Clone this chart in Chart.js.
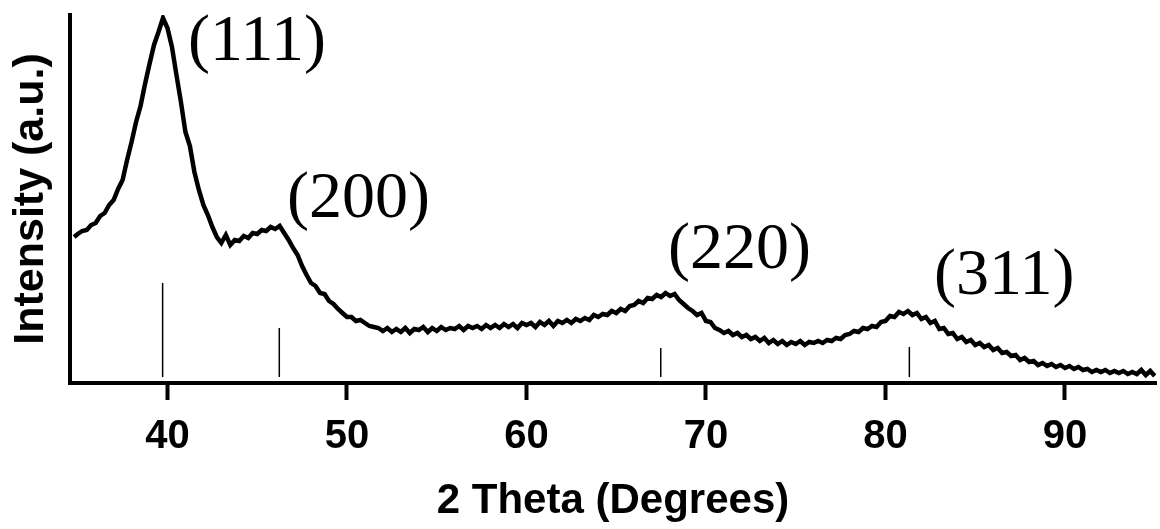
<!DOCTYPE html>
<html>
<head>
<meta charset="utf-8">
<script src="https://cdn.jsdelivr.net/npm/chart.js@4/dist/chart.umd.min.js"></script>
<style>
  body { margin: 0; background: #fff; }
  canvas { display: block; }
</style>
</head>
<body>
<canvas id="xrd" width="1160" height="529"></canvas>
<script>
// 2 theta (degrees) for the measured pattern
const twoTheta = [
  34.8,
  35, 35.25, 35.5, 35.75, 36, 36.25, 36.5, 36.75, 37, 37.25, 37.5, 37.75,
  38, 38.25, 38.5, 38.75, 39, 39.25, 39.5, 39.75, 40, 40.25, 40.5, 40.75,
  41, 41.25, 41.5, 41.75, 42, 42.25, 42.5, 42.75, 43, 43.25, 43.5, 43.75,
  44, 44.25, 44.5, 44.75, 45, 45.25, 45.5, 45.75, 46, 46.25, 46.5, 46.75,
  47, 47.25, 47.5, 47.75, 48, 48.25, 48.5, 48.75, 49, 49.25, 49.5, 49.75,
  50, 50.25, 50.5, 50.75, 51, 51.25, 51.5, 51.75, 52, 52.25, 52.5, 52.75,
  53, 53.25, 53.5, 53.75, 54, 54.25, 54.5, 54.75, 55, 55.25, 55.5, 55.75,
  56, 56.25, 56.5, 56.75, 57, 57.25, 57.5, 57.75, 58, 58.25, 58.5, 58.75,
  59, 59.25, 59.5, 59.75, 60, 60.25, 60.5, 60.75, 61, 61.25, 61.5, 61.75,
  62, 62.25, 62.5, 62.75, 63, 63.25, 63.5, 63.75, 64, 64.25, 64.5, 64.75,
  65, 65.25, 65.5, 65.75, 66, 66.25, 66.5, 66.75, 67, 67.25, 67.5, 67.75,
  68, 68.25, 68.5, 68.75, 69, 69.25, 69.5, 69.75, 70, 70.25, 70.5, 70.75,
  71, 71.25, 71.5, 71.75, 72, 72.25, 72.5, 72.75, 73, 73.25, 73.5, 73.75,
  74, 74.25, 74.5, 74.75, 75, 75.25, 75.5, 75.75, 76, 76.25, 76.5, 76.75,
  77, 77.25, 77.5, 77.75, 78, 78.25, 78.5, 78.75, 79, 79.25, 79.5, 79.75,
  80, 80.25, 80.5, 80.75, 81, 81.25, 81.5, 81.75, 82, 82.25, 82.5, 82.75,
  83, 83.25, 83.5, 83.75, 84, 84.25, 84.5, 84.75, 85, 85.25, 85.5, 85.75,
  86, 86.25, 86.5, 86.75, 87, 87.25, 87.5, 87.75, 88, 88.25, 88.5, 88.75,
  89, 89.25, 89.5, 89.75, 90, 90.25, 90.5, 90.75, 91, 91.25, 91.5, 91.75,
  92, 92.25, 92.5, 92.75, 93, 93.25, 93.5, 93.75, 94, 94.25, 94.5, 94.75,
  95
];

// intensity (a.u.)
const intensity = [
  146,
  149, 152, 153, 158, 160, 167, 170, 178, 183, 194, 203, 223,
  241, 261, 277, 299, 319, 338, 351, 365, 355, 336, 308, 281,
  251, 237, 211, 193, 178, 168, 156, 146, 140, 148, 138, 143,
  142, 147, 145, 150, 149, 153, 152, 156, 154, 157, 150, 143,
  135, 128, 117, 108, 100, 97, 90, 89, 82, 79, 74, 70,
  66, 66, 62, 63, 60, 57, 56, 55, 52, 55, 51, 54,
  51, 55, 50, 54, 53, 56, 51, 55, 52, 56, 53, 55,
  54, 57, 53, 57, 55, 57, 54, 58, 55, 58, 55, 59,
  56, 59, 55, 60, 58, 60, 56, 61, 58, 62, 57, 62,
  60, 63, 60, 64, 62, 65, 63, 68, 66, 69, 68, 72,
  70, 74, 72, 77, 78, 82, 80, 85, 84, 88, 86, 90,
  87, 89, 83, 79, 75, 72, 68, 70, 62, 61, 55, 53,
  50, 52, 48, 50, 46, 48, 44, 46, 42, 45, 40, 43,
  39, 42, 38, 41, 39, 42, 38, 41, 40, 42, 40, 43,
  42, 45, 44, 48, 49, 52, 51, 55, 54, 57, 56, 61,
  62, 67, 66, 71, 69, 72, 68, 70, 64, 66, 60, 62,
  54, 55, 49, 50, 44, 46, 41, 43, 38, 40, 36, 38,
  33, 35, 30, 31, 27, 28, 23, 25, 21, 22, 18, 20,
  17, 19, 16, 18, 15, 17, 14, 16, 13, 14, 11, 13,
  11, 13, 10, 12, 10, 12, 9, 11, 9, 13, 8, 12,
  7
];

// reference pattern sticks
const refPos = [39.73, 46.23, 67.48, 81.33];
const refTop = [100, 55, 35, 36];
const refBase = 6;

// reflection labels and where they sit (data units: left edge, baseline)
const hkl = ['(111)', '(200)', '(220)', '(311)'];
const hklX = [41.14, 46.66, 67.88, 82.7];
const hklY = [323, 166, 115, 89];

const xTicks = [40, 50, 60, 70, 80, 90];

const trace = twoTheta.map((t, i) => ({ x: t, y: intensity[i] }));
const sticks = [];
refPos.forEach((p, i) => {
  sticks.push({ x: p, y: refBase }, { x: p, y: refTop[i] }, { x: p, y: null });
});

const hklLabels = {
  id: 'hklLabels',
  afterDatasetsDraw(chart) {
    const { ctx, scales } = chart;
    ctx.save();
    ctx.fillStyle = '#000';
    ctx.font = '66px "Liberation Serif", "Times New Roman", serif';
    ctx.textAlign = 'left';
    ctx.textBaseline = 'alphabetic';
    hkl.forEach((s, i) => {
      ctx.fillText(s, scales.x.getPixelForValue(hklX[i]), scales.y.getPixelForValue(hklY[i]));
    });
    ctx.restore();
  }
};

const sans = '"Liberation Sans", Arial, sans-serif';

new Chart(document.getElementById('xrd'), {
  type: 'line',
  data: {
    datasets: [
      {
        data: trace,
        borderColor: '#000',
        borderWidth: 4.5,
        pointRadius: 0,
        tension: 0,
        fill: false
      },
      {
        data: sticks,
        borderColor: '#000',
        borderWidth: 1.5,
        pointRadius: 0,
        spanGaps: false,
        fill: false
      }
    ]
  },
  options: {
    responsive: false,
    animation: false,
    devicePixelRatio: 1,
    layout: { padding: { top: 15, right: 4, left: 0, bottom: 0 } },
    plugins: {
      legend: { display: false },
      tooltip: { enabled: false }
    },
    scales: {
      x: {
        type: 'linear',
        min: 34.57,
        max: 95.07,
        afterFit: (s) => { s.height = 146; },
        afterBuildTicks: (s) => { s.ticks = xTicks.map(v => ({ value: v })); },
        border: { display: true, color: '#000', width: 4 },
        grid: {
          drawOnChartArea: false,
          drawTicks: true,
          tickLength: 17,
          tickWidth: 4,
          tickColor: '#000'
        },
        ticks: {
          color: '#000',
          padding: 13,
          font: { family: sans, size: 40, weight: 'bold' }
        },
        title: {
          display: true,
          text: '2 Theta (Degrees)',
          color: '#000',
          font: { family: sans, size: 42, weight: 'bold' },
          padding: { top: 0, bottom: 2 }
        }
      },
      y: {
        min: 0,
        max: 368,
        afterFit: (s) => { s.width = 70; },
        border: { display: true, color: '#000', width: 4 },
        grid: { drawOnChartArea: false, drawTicks: false },
        ticks: { display: false },
        title: {
          display: true,
          text: 'Intensity (a.u.)',
          color: '#000',
          font: { family: sans, size: 43, weight: 'bold' },
          padding: { top: 5, bottom: 0 }
        }
      }
    }
  },
  plugins: [hklLabels]
});
</script>
</body>
</html>
